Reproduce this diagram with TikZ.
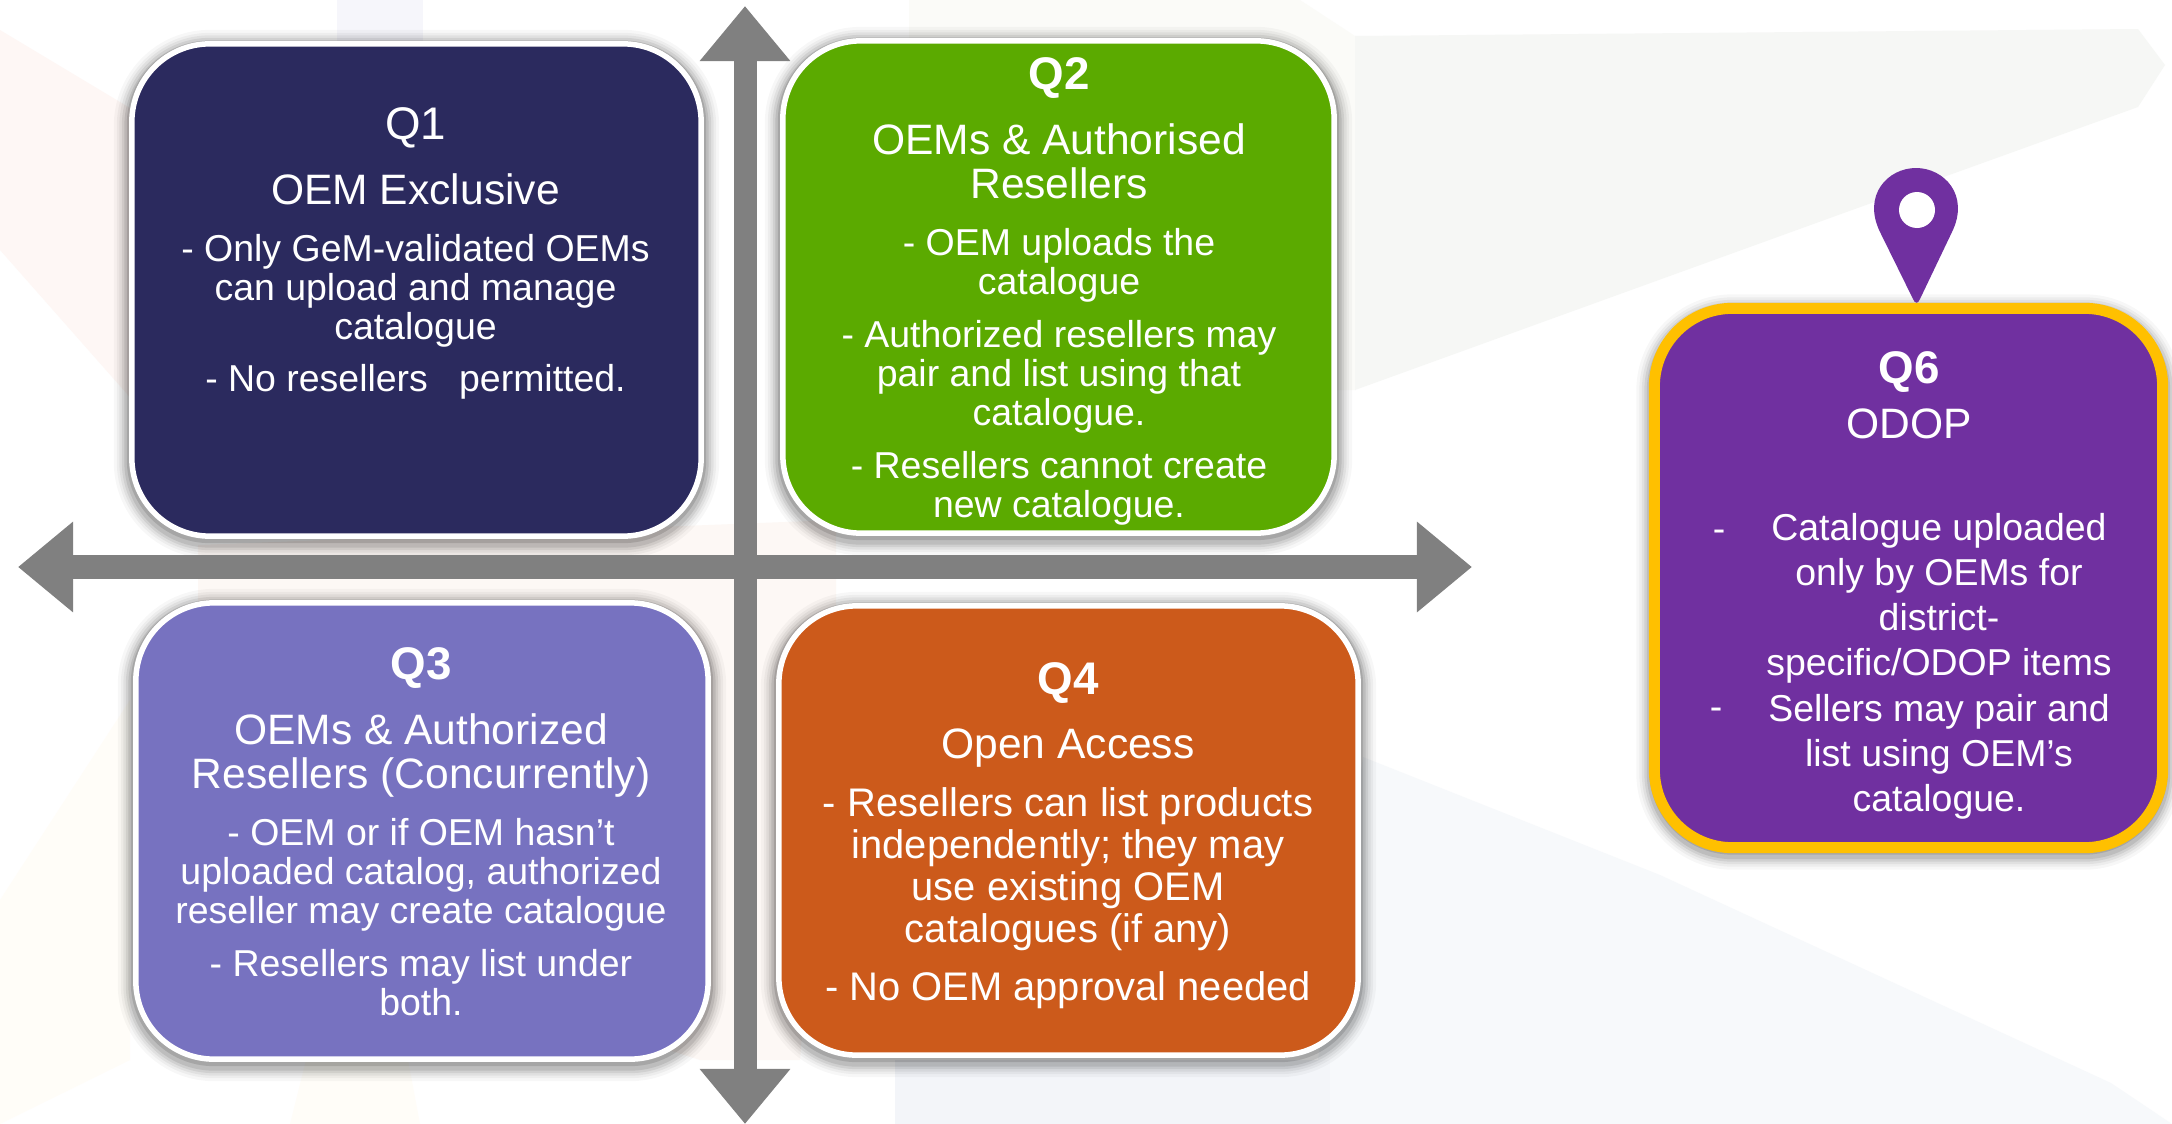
\documentclass[tikz,border=0pt]{standalone}
\usepackage{fontspec}
\setmainfont{Liberation Sans}
\usepackage{tikz}
\usetikzlibrary{arrows.meta}

\definecolor{qone}{HTML}{2B2A5E}
\definecolor{qtwo}{HTML}{5BAA00}
\definecolor{qthree}{HTML}{7772C0}
\definecolor{qfour}{HTML}{CC5A1B}
\definecolor{qsix}{HTML}{7030A0}
\definecolor{qrim}{HTML}{FFC000}
\definecolor{axisgray}{HTML}{808080}

\newcommand{\qlabel}{\fontsize{13}{11.1}\selectfont}
\newcommand{\qtitle}{\fontsize{12.1}{11.1}\selectfont}

\begin{document}
\begin{tikzpicture}[x=0.01cm,y=-0.01cm]
	\tikzstyle{softshadow}=[
		preaction={draw=black,draw opacity=.03,line width=.36cm,transform canvas={yshift=-.04cm}},
		preaction={draw=black,draw opacity=.04,line width=.30cm,transform canvas={yshift=-.04cm}},
		preaction={draw=black,draw opacity=.05,line width=.25cm,transform canvas={yshift=-.04cm}},
		preaction={draw=black,draw opacity=.07,line width=.20cm,transform canvas={yshift=-.04cm}},
		preaction={draw=black,draw opacity=.09,line width=.15cm,transform canvas={yshift=-.04cm}},
		preaction={draw=black,draw opacity=.12,line width=.10cm,transform canvas={yshift=-.02cm}}]
	\tikzstyle{quadbox}=[rectangle, rounded corners=.78cm, inner sep=0pt, draw=white, line width=.055cm, softshadow]
	\tikzstyle{quadtext}=[anchor=north, inner sep=0pt, align=center, text=white, font=\fontsize{10.65}{11.1}\selectfont]
	\tikzstyle{axisline}=[line width=.23cm, draw=axisgray, {Triangle[length=.55cm,width=.87cm]}-{Triangle[length=.55cm,width=.87cm]}]

	\useasboundingbox (0,0) rectangle (2172,1124);
	\fill[white] (0,0) rectangle (2172,1124);

	% pale watermark behind the quadrants
	\definecolor{wmpink}{HTML}{FEF7F5}
	\definecolor{wmpeach}{HTML}{FDF8F5}
	\definecolor{wmcream}{HTML}{FFFDF8}
	\definecolor{wmlilac}{HTML}{F6F6FB}
	\definecolor{wmsage}{HTML}{F6F7F5}
	\definecolor{wmivory}{HTML}{FBFBF8}
	\definecolor{wmsky}{HTML}{F7F9FB}
	\definecolor{wmmist}{HTML}{F3F5F9}
	\fill[wmpink] (0,30) -- (150,120) -- (150,420) -- (0,250) -- cycle;
	\fill[wmlilac] (337,0) -- (423,0) -- (423,45) -- (337,45) -- cycle;
	\fill[wmpeach] (198,545) -- (836,520) -- (836,620) -- (800,1060) -- (700,1060) -- (198,900) -- cycle;
	\fill[wmcream] (0,900) -- (130,700) -- (130,1060) -- (0,1124) -- cycle;
	\fill[wmcream] (306,1060) -- (408,1060) -- (420,1124) -- (290,1124) -- cycle;
	\fill[wmivory] (909,0) -- (1300,0) -- (1355,36) -- (1355,390) -- (909,390) -- cycle;
	\fill[wmsage] (1355,36) -- (2138,29) -- (2165,65) -- (2138,107) -- (1841,214) -- (1355,390) -- cycle;
	\fill[wmsky] (1363,757) -- (1660,875) -- (2111,1083) -- (2172,1124) -- (1318,1124) -- (1318,1059) -- cycle;
	\fill[wmmist] (895,1060) -- (1330,1060) -- (1330,1124) -- (895,1124) -- cycle;

	% quadrants
	\node[quadbox, fill=qone, minimum width=5.69cm, minimum height=4.92cm] (qa) at (416.5,290) {};
	\node[quadbox, fill=qtwo, minimum width=5.51cm, minimum height=4.92cm] (qb) at (1058.5,287) {};
	\node[quadbox, fill=qthree, minimum width=5.72cm, minimum height=4.56cm] (qc) at (422,831) {};
	\node[quadbox, fill=qfour, minimum width=5.79cm, minimum height=4.49cm] (qd) at (1068.5,830.5) {};
	\node[quadbox, fill=qsix, draw=qrim, line width=.11cm, minimum width=5.08cm, minimum height=5.39cm] (qf) at (1908.5,578) {};

	\node[quadtext] (qatext) at (415.5,107) {\qlabel Q1\\[.215cm]
		{\qtitle OEM Exclusive}\\[.185cm]
		- Only GeM-validated OEMs\\
		can upload and manage\\
		catalogue\\[.13cm]
		- No resellers\ \ \ permitted.};
	\node[quadtext] (qbtext) at (1059,56.5) {{\qlabel\bfseries Q2}\\[.22cm]
		{\qtitle OEMs \& Authorised}\\[.05cm]
		{\qtitle Resellers}\\[.175cm]
		- OEM uploads the\\
		catalogue\\[.14cm]
		- Authorized resellers may\\
		pair and list using that\\
		catalogue.\\[.145cm]
		- Resellers cannot create\\
		new catalogue.};
	\node[quadtext] (qctext) at (421,646.5) {{\qlabel\bfseries Q3}\\[.225cm]
		{\qtitle OEMs \& Authorized}\\[.04cm]
		{\qtitle Resellers (Concurrently)}\\[.185cm]
		- OEM or if OEM hasn’t\\
		uploaded catalog, authorized\\
		reseller may create catalogue\\[.14cm]
		- Resellers may list under\\
		both.};
	\node[quadtext, font=\fontsize{11.35}{11.1}\selectfont] (qdtext) at (1068,662) {{\qlabel\bfseries Q4}\\[.25cm]
		{\qtitle Open Access}\\[.19cm]
		- Resellers can list products\\[.03cm]
		independently; they may\\[.03cm]
		use existing OEM\\[.03cm]
		catalogues (if any)\\[.19cm]
		- No OEM approval needed};
	\node[quadtext] (qfhead) at (1909,351) {{\qlabel\bfseries Q6}\\[.16cm]
		{\qtitle ODOP}};
	\node[quadtext] (qfbody) at (1939,513) {Catalogue uploaded\\[.06cm]
		only by OEMs for\\[.06cm]
		district-\\[.06cm]
		specific/ODOP items\\[.06cm]
		Sellers may pair and\\[.06cm]
		list using OEM’s\\[.06cm]
		catalogue.};
	\node[quadtext, anchor=base] (qfdasha) at (1719,541) {-};
	\node[quadtext, anchor=base] (qfdashb) at (1716,719.5) {-};

	% axes
	\coordinate (axisleft) at (18,567);
	\coordinate (axisright) at (1472,567);
	\coordinate (axistop) at (745,6);
	\coordinate (axisbottom) at (745,1124);
	\draw[axisline] (axisleft) -- (axisright);
	\draw[axisline] (axistop) -- (axisbottom);

	% location pin on top of Q6
	\fill[qsix] (1913,299) -- (1880,232) .. controls (1862,195) and (1888,168) .. (1916,168) .. controls (1944,168) and (1970,195) .. (1952,232) -- (1920,299) .. controls (1918,304) and (1915,304) .. (1913,299) -- cycle;
	\fill[white] (1917,210) circle (18);
\end{tikzpicture}
\end{document}
